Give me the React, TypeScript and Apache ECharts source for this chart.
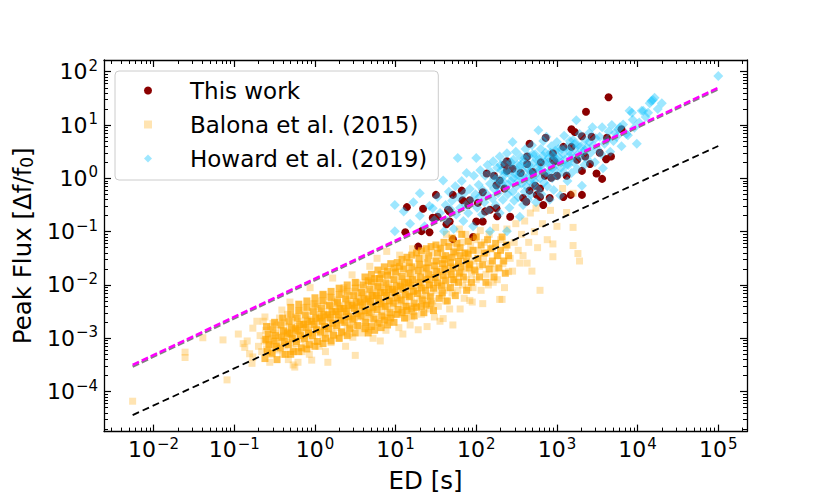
import React, { useEffect, useRef } from 'react';
import * as echarts from 'echarts';

// Axis extents (log10 units)
const X_MIN = -2.615;
const X_MAX = 5.356;
const Y_MIN = -4.75;
const Y_MAX = 2.22;

const xMajorTicks = [-2, -1, 0, 1, 2, 3, 4, 5];
const yMajorTicks = [-4, -3, -2, -1, 0, 1, 2];

const seriesNames = ['This work', 'Balona et al. (2015)', 'Howard et al. (2019)'];

// [log10 ED (s), log10 peak flux]
const thisWorkLog: [number, number][] = [
  [3.64, 1.52], [3.36, 1.25], [3.18, 0.92], [3.22, 0.87], [3.31, 0.79], [3.43, 0.78],
  [2.86, 0.76], [2.66, 0.65], [3.08, 0.59], [3.18, 0.59], [3.62, 0.76], [3.80, 0.92],
  [3.53, 0.48], [3.61, 0.36], [3.67, 0.41], [3.35, 0.41], [3.41, 0.27], [3.31, 0.14],
  [3.49, 0.09], [3.56, -0.01], [2.95, 0.47], [2.95, 0.35], [2.63, 0.41], [2.39, 0.29],
  [2.38, 0.14], [2.38, 0.32], [2.63, 0.27], [2.80, 0.30], [2.97, 0.32], [2.13, 0.09],
  [2.22, 0.05], [2.29, -0.04], [1.71, -0.31], [1.82, -0.23], [1.50, -0.31], [1.34, -0.57],
  [1.14, -0.54], [2.83, -0.50], [3.17, -0.31], [3.31, -0.31], [2.91, -0.37], [2.42, -0.72],
  [2.25, -0.56], [1.67, -0.62], [2.58, -0.37], [2.73, -0.14], [2.93, 0.01], [3.12, 0.05],
  [3.00, 0.05], [2.79, -0.19], [2.08, -0.81], [1.12, -1.01], [1.90, -0.50], [1.46, -0.74],
  [1.65, -0.59], [1.67, -0.81], [1.63, -0.86], [1.83, -0.41], [2.02, -0.46], [2.17, -0.59],
  [1.96, -1.10], [1.71, -1.14], [2.66, -0.23], [2.79, -0.35], [1.32, -0.99], [1.42, -1.01],
  [1.52, -0.72], [1.28, -1.28], [2.35, 0.26], [2.45, 0.18], [2.85, 0.05], [2.75, -0.31],
  [2.62, -0.44], [2.35, -0.19], [2.25, -0.13], [2.08, -0.26], [1.92, -0.41], [2.11, -0.62],
  [2.26, -0.71], [2.00, -0.81], [3.08, -0.35], [2.55, 0.10], [2.70, 0.12], [3.25, 0.35],
];

const balonaSparseLog: [number, number][] = [
  [-2.26, -4.18], [-1.61, -3.26], [-1.61, -3.36], [-1.39, -2.99], [-1.09, -3.78], [-1.14, -3.03],
  [-0.95, -2.92], [-0.84, -3.05], [-0.77, -2.81], [-0.72, -2.68], [-0.64, -2.68], [-0.60, -3.05],
  [-0.87, -3.17], [-0.77, -3.35], [-0.78, -3.47], [-0.27, -3.50], [-0.25, -3.54], [0.16, -3.45],
  [-0.04, -3.41], [-0.89, -3.10], [-0.81, -3.29],
  [-0.70, -3.15], [-0.68, -2.95], [-0.66, -3.25], [-0.63, -3.05], [-0.61, -2.85], [-0.60, -3.20],
  [-0.58, -2.98], [-0.57, -3.12], [-0.55, -2.78], [-0.54, -3.30], [-0.53, -3.00], [-0.52, -2.72],
  [-0.51, -3.18], [-0.62, -2.60], [-0.56, -3.45],
  [-0.49, -2.90], [-0.48, -3.10], [-0.47, -2.75], [-0.46, -3.22], [-0.45, -2.98], [-0.44, -2.62],
  [-0.43, -3.05], [-0.42, -2.85], [-0.41, -2.47], [-0.40, -3.30], [-0.39, -2.95], [-0.38, -2.70],
  [-0.37, -3.15], [-0.36, -2.88], [-0.35, -3.02], [-0.34, -2.55], [-0.33, -3.40], [-0.32, -2.78],
  [-0.31, -2.32], [-0.30, -3.08], [-0.29, -2.92], [-0.28, -2.66], [-0.27, -3.20], [-0.26, -2.84],
  [-0.25, -2.95], [-0.24, -2.60], [-0.23, -3.10], [-0.22, -2.78], [-0.21, -3.45], [-0.20, -2.50],
  [-0.19, -2.88], [-0.18, -3.02], [-0.17, -2.68], [-0.16, -3.25], [-0.15, -2.82], [-0.14, -2.42],
  [-0.13, -2.95], [-0.12, -3.12], [-0.11, -2.72], [-0.10, -2.58], [-0.09, -3.00], [-0.08, -2.85],
  [-0.07, -3.30], [-0.06, -2.05], [-0.06, -2.65], [-0.05, -2.92], [-0.03, -2.48], [-0.02, -2.78],
  [-0.01, -3.05], [-0.02, -2.35],
  [0.01, -2.62], [0.02, -2.90], [0.03, -2.40], [0.04, -2.75], [0.05, -3.15], [0.06, -2.55],
  [0.07, -2.85], [0.08, -2.30], [0.09, -2.68], [0.10, -2.17], [0.10, -3.00], [0.11, -2.50],
  [0.12, -2.78], [0.13, -3.25], [0.14, -2.60], [0.15, -2.38], [0.16, -2.92], [0.17, -2.70],
  [0.18, -2.22], [0.19, -2.55], [0.20, -3.08], [0.21, -2.82], [0.22, -1.87], [0.22, -2.45],
  [0.23, -2.66], [0.24, -2.95], [0.24, -2.32], [0.05, -2.48], [0.12, -2.88], [0.19, -2.40],
  [0.08, -2.60],
  [0.26, -2.55], [0.27, -2.80], [0.28, -2.28], [0.29, -2.62], [0.30, -3.00], [0.31, -2.45],
  [0.32, -2.70], [0.33, -2.15], [0.34, -2.52], [0.35, -2.08], [0.35, -2.88], [0.36, -2.38],
  [0.37, -2.60], [0.38, -3.15], [0.39, -2.25], [0.40, -2.75], [0.41, -2.48], [0.42, -2.92],
  [0.43, -2.20], [0.44, -2.58], [0.45, -2.35], [0.46, -1.81], [0.46, -2.68], [0.47, -2.98],
  [0.48, -2.42], [0.49, -2.12], [0.49, -2.62], [0.30, -2.40], [0.38, -2.55], [0.44, -2.80],
  [0.27, -2.35], [0.33, -2.90], [0.41, -2.30], [0.48, -2.75], [0.36, -2.05],
  [0.50, -3.32], [0.51, -2.40], [0.52, -1.96], [0.53, -2.60], [0.54, -2.25], [0.55, -2.78],
  [0.56, -2.35], [0.57, -2.05], [0.58, -2.50], [0.59, -2.90], [0.60, -2.18], [0.61, -2.42],
  [0.62, -2.68], [0.63, -1.95], [0.64, -2.30], [0.65, -2.55], [0.66, -2.12], [0.67, -2.85],
  [0.68, -1.65], [0.68, -2.38], [0.69, -2.62], [0.70, -2.20], [0.71, -2.45], [0.72, -3.00],
  [0.73, -2.02], [0.74, -2.30], [0.55, -2.48], [0.60, -2.60], [0.65, -2.30], [0.70, -2.50],
  [0.58, -2.15], [0.63, -2.78], [0.72, -2.15], [0.53, -2.20],
  [0.75, -2.60], [0.76, -2.15], [0.77, -1.50], [0.78, -2.40], [0.79, -1.95], [0.80, -2.70],
  [0.81, -3.05], [0.81, -2.25], [0.82, -2.05], [0.83, -2.50], [0.84, -1.85], [0.85, -2.32],
  [0.86, -2.60], [0.87, -2.10], [0.88, -2.85], [0.89, -1.37], [0.89, -2.20], [0.90, -2.45],
  [0.91, -1.98], [0.92, -2.70], [0.93, -2.30], [0.94, -1.80], [0.95, -2.55], [0.96, -2.12],
  [0.97, -2.40], [0.98, -1.90], [0.99, -2.25], [0.80, -2.35], [0.85, -2.00], [0.90, -2.62],
  [0.95, -2.20], [0.78, -2.05], [0.88, -2.40], [0.93, -2.05],
  [1.00, -2.55], [1.01, -2.10], [1.02, -1.75], [1.03, -2.35], [1.04, -2.80], [1.05, -1.44],
  [1.05, -2.00], [1.06, -2.20], [1.07, -1.88], [1.08, -2.48], [1.09, -2.92], [1.10, -2.05],
  [1.11, -1.65], [1.12, -2.30], [1.13, -2.62], [1.14, -1.95], [1.15, -2.15], [1.16, -1.78],
  [1.17, -2.40], [1.18, -2.75], [1.19, -1.90], [1.20, -2.22], [1.21, -1.32], [1.21, -2.00],
  [1.22, -2.50], [1.23, -1.70], [1.24, -2.10], [1.05, -2.30], [1.10, -2.40], [1.15, -1.90],
  [1.20, -2.60], [1.08, -1.95], [1.13, -2.05], [1.18, -2.20],
  [1.25, -2.40], [1.26, -1.85], [1.27, -2.10], [1.28, -2.84], [1.29, -1.60], [1.30, -2.25],
  [1.31, -1.95], [1.32, -2.55], [1.33, -1.75], [1.34, -2.05], [1.35, -2.35], [1.36, -1.50],
  [1.37, -1.88], [1.38, -2.20], [1.39, -2.78], [1.40, -1.68], [1.41, -2.00], [1.42, -2.45],
  [1.43, -1.82], [1.44, -2.15], [1.45, -1.40], [1.46, -2.30], [1.47, -1.95], [1.48, -2.60],
  [1.49, -1.72], [1.30, -2.00], [1.35, -1.70], [1.40, -2.30], [1.45, -1.90], [1.33, -2.20],
  [1.50, -2.10], [1.51, -1.55], [1.52, -1.85], [1.53, -2.40], [1.54, -1.30], [1.55, -2.68],
  [1.55, -2.00], [1.56, -1.70], [1.57, -2.20], [1.58, -1.45], [1.59, -2.63], [1.60, -1.90],
  [1.61, -1.62], [1.62, -2.30], [1.63, -1.05], [1.64, -1.80], [1.65, -2.05], [1.66, -1.50],
  [1.67, -2.45], [1.68, -1.75], [1.69, -1.20], [1.70, -2.15], [1.71, -2.75], [1.72, -1.65],
  [1.73, -1.95], [1.74, -1.40], [1.55, -1.75], [1.60, -2.10], [1.65, -1.65], [1.70, -1.90],
  [1.75, -1.85], [1.76, -1.35], [1.77, -2.10], [1.78, -1.60], [1.79, -0.95], [1.80, -2.45],
  [1.81, -1.75], [1.82, -1.20], [1.83, -2.00], [1.84, -1.50], [1.85, -2.25], [1.86, -1.70],
  [1.87, -1.05], [1.88, -1.90], [1.89, -1.40], [1.90, -2.05], [1.91, -1.60], [1.92, -2.29],
  [1.93, -1.28], [1.94, -1.80], [1.95, -2.32], [1.96, -2.05], [1.97, -1.55], [1.98, -1.15],
  [1.99, -1.75],
  [2.00, -1.90], [2.02, -1.35], [2.04, -1.65], [2.05, -0.98], [2.06, -2.10], [2.08, -2.35],
  [2.09, -1.50], [2.10, -1.20], [2.12, -1.80], [2.13, -1.40], [2.15, -2.00], [2.16, -1.05],
  [2.18, -1.60], [2.20, -1.30], [2.21, -1.95], [2.23, -1.70], [2.24, -0.92],
  [2.26, -1.90], [2.27, -1.45], [2.29, -2.27], [2.30, -1.15], [2.32, -2.27], [2.33, -1.60],
  [2.35, -2.05], [2.36, -1.30], [2.38, -0.95], [2.40, -1.75], [2.42, -1.50], [2.45, -1.74],
  [2.47, -1.20], [2.49, -0.85],
  [2.52, -1.35], [2.54, -1.59], [2.56, -1.05], [2.58, -1.45], [2.60, -0.80], [2.63, -1.59],
  [2.65, -1.20], [2.67, -0.65], [2.69, -1.74], [2.72, -1.00], [2.74, -0.56],
  [2.76, -1.30], [2.79, -2.10], [2.82, -0.85], [2.88, -1.15], [2.92, -0.60], [2.95, -1.23],
  [2.95, -1.47], [3.00, -0.90], [3.07, -0.19], [3.12, -0.64], [3.20, -0.28], [3.20, -0.92],
  [3.20, -1.26], [3.26, -1.41], [3.28, -1.55],
];

// dense interior of the Balona cloud
const balonaCoreLog: [number, number][] = [
  [-0.60, -2.78], [-0.58, -2.92], [-0.61, -3.02], [-0.57, -3.12], [-0.59, -3.25], [-0.62, -3.38],
  [-0.50, -2.70], [-0.52, -2.84], [-0.49, -2.95], [-0.51, -3.05], [-0.48, -3.15], [-0.53, -3.28], [-0.47, -3.40],
  [-0.40, -2.62], [-0.42, -2.75], [-0.39, -2.86], [-0.41, -2.98], [-0.38, -3.06], [-0.43, -3.18], [-0.37, -3.30],
  [-0.30, -2.55], [-0.32, -2.68], [-0.29, -2.80], [-0.31, -2.92], [-0.28, -3.00], [-0.33, -3.12], [-0.27, -3.25], [-0.34, -2.90],
  [-0.20, -2.48], [-0.22, -2.62], [-0.19, -2.74], [-0.21, -2.86], [-0.18, -2.95], [-0.23, -3.06], [-0.17, -3.18], [-0.24, -2.82],
  [-0.10, -2.42], [-0.12, -2.56], [-0.09, -2.68], [-0.11, -2.80], [-0.08, -2.90], [-0.13, -3.00], [-0.07, -3.12], [-0.14, -2.74],
  [0.00, -2.36], [-0.02, -2.50], [0.01, -2.62], [-0.01, -2.74], [0.02, -2.84], [-0.03, -2.95], [0.03, -3.06], [-0.04, -2.68],
  [0.10, -2.30], [0.08, -2.44], [0.11, -2.56], [0.09, -2.68], [0.12, -2.78], [0.07, -2.88], [0.13, -3.00], [0.06, -2.62],
  [0.20, -2.24], [0.18, -2.38], [0.21, -2.50], [0.19, -2.62], [0.22, -2.72], [0.17, -2.82], [0.23, -2.94], [0.16, -2.56],
  [0.30, -2.18], [0.28, -2.32], [0.31, -2.44], [0.29, -2.56], [0.32, -2.66], [0.27, -2.76], [0.33, -2.88], [0.26, -2.50],
  [0.40, -2.12], [0.38, -2.26], [0.41, -2.38], [0.39, -2.50], [0.42, -2.60], [0.37, -2.70], [0.43, -2.82], [0.36, -2.44],
  [0.50, -2.06], [0.48, -2.20], [0.51, -2.32], [0.49, -2.44], [0.52, -2.54], [0.47, -2.64], [0.53, -2.76], [0.46, -2.38],
  [0.60, -2.00], [0.58, -2.14], [0.61, -2.26], [0.59, -2.38], [0.62, -2.48], [0.57, -2.58], [0.63, -2.70], [0.56, -2.32],
  [0.70, -1.94], [0.68, -2.08], [0.71, -2.20], [0.69, -2.32], [0.72, -2.42], [0.67, -2.52], [0.73, -2.64], [0.66, -2.26],
  [0.80, -1.88], [0.78, -2.02], [0.81, -2.14], [0.79, -2.26], [0.82, -2.36], [0.77, -2.46], [0.83, -2.58], [0.76, -2.20],
  [0.90, -1.82], [0.88, -1.96], [0.91, -2.08], [0.89, -2.20], [0.92, -2.30], [0.87, -2.40], [0.93, -2.52], [0.86, -2.14],
  [1.00, -1.76], [0.98, -1.90], [1.01, -2.02], [0.99, -2.14], [1.02, -2.24], [0.97, -2.34], [1.03, -2.46], [0.96, -2.08],
  [1.10, -1.70], [1.08, -1.84], [1.11, -1.96], [1.09, -2.08], [1.12, -2.18], [1.07, -2.28], [1.13, -2.40], [1.06, -2.02],
  [1.20, -1.66], [1.18, -1.78], [1.21, -1.90], [1.19, -2.02], [1.22, -2.12], [1.17, -2.22], [1.23, -2.34], [1.16, -1.96],
  [1.30, -1.62], [1.28, -1.73], [1.31, -1.85], [1.29, -1.96], [1.32, -2.06], [1.27, -2.16], [1.33, -2.28],
  [1.40, -1.58], [1.38, -1.68], [1.41, -1.80], [1.39, -1.90], [1.42, -2.00], [1.37, -2.10], [1.43, -2.22],
  [1.50, -1.55], [1.48, -1.64], [1.51, -1.75], [1.49, -1.86], [1.52, -1.96], [1.47, -2.06],
  [1.60, -1.52], [1.58, -1.60], [1.61, -1.70], [1.59, -1.82], [1.62, -1.92], [1.57, -2.02],
  [1.70, -1.48], [1.68, -1.58], [1.71, -1.68], [1.69, -1.80], [1.72, -1.90],
  [1.80, -1.45], [1.78, -1.56], [1.81, -1.66], [1.79, -1.78],
  [1.90, -1.42], [1.88, -1.55], [1.91, -1.68],
  // widening of the cloud
  [-0.30, -2.42], [-0.20, -2.36], [-0.10, -2.30], [0.00, -2.24], [0.10, -2.18], [0.20, -2.12],
  [0.30, -2.06], [0.40, -2.00], [0.50, -1.95],
  [-0.30, -3.30], [-0.20, -3.25], [-0.10, -3.20], [0.00, -3.15], [0.10, -3.10], [0.20, -3.05],
  [0.30, -3.00], [0.40, -2.95], [0.50, -2.90],
  [0.62, -1.85], [0.70, -1.80], [0.78, -1.72], [0.86, -1.66], [0.94, -1.60], [0.66, -1.92],
  [0.74, -1.88], [0.82, -1.80], [0.90, -1.74], [0.98, -1.68],
  [0.62, -2.82], [0.70, -2.78], [0.78, -2.72], [0.86, -2.66], [0.94, -2.62], [0.66, -2.90],
  [0.74, -2.85], [0.82, -2.80], [0.90, -2.75], [0.98, -2.70],
  [1.02, -1.58], [1.08, -1.52], [1.14, -1.48], [1.20, -1.44], [1.26, -1.40], [1.32, -1.36],
  [1.38, -1.32], [1.44, -1.28], [1.05, -1.65], [1.17, -1.58], [1.29, -1.50], [1.41, -1.45],
  [1.02, -2.55], [1.08, -2.52], [1.14, -2.48], [1.20, -2.45], [1.26, -2.42], [1.32, -2.40],
  [1.38, -2.38], [1.44, -2.35], [1.11, -2.62], [1.23, -2.58], [1.35, -2.52], [1.47, -2.48],
  [1.50, -1.25], [1.52, -1.40], [1.54, -2.25], [1.56, -1.32], [1.58, -2.15], [1.60, -1.20],
  [1.62, -1.45], [1.64, -2.30], [1.66, -1.28], [1.68, -2.05], [1.70, -1.12], [1.72, -1.38],
  [1.74, -2.20], [1.76, -1.22], [1.78, -1.95], [1.80, -1.30], [1.82, -1.05], [1.84, -1.85],
  [1.86, -1.40], [1.88, -2.10], [1.90, -1.18], [1.92, -1.62], [1.94, -1.95], [1.96, -1.35],
  [1.98, -1.72], [2.00, -1.10], [2.02, -1.50], [2.04, -1.85], [2.06, -1.25], [2.08, -1.62],
  [2.10, -1.40], [2.12, -1.95], [2.14, -1.15], [2.16, -1.70], [2.18, -1.32], [2.20, -1.55],
  [2.22, -1.85], [2.24, -1.22], [2.26, -1.45], [2.28, -1.68], [2.30, -1.35], [2.32, -1.10],
  [2.34, -1.55], [2.36, -1.78], [2.38, -1.25], [2.40, -1.45],
];

const howardLog: [number, number][] = [
  [0.99, -0.50], [0.99, -0.99], [1.10, -0.62], [1.18, -0.85], [1.22, -0.45], [1.30, -0.28],
  [1.30, -0.70], [1.36, -0.90], [1.42, -0.52], [1.46, -0.56], [1.48, -0.78],
  [1.52, -0.35], [1.55, -0.65], [1.59, -0.04], [1.60, -0.99], [1.62, -0.50], [1.64, -0.80],
  [1.66, -0.25], [1.68, -0.58], [1.70, -0.42], [1.72, -0.95], [1.74, -0.15], [1.75, -0.68],
  [1.77, 0.38], [1.78, -0.35], [1.80, -0.55], [1.82, -0.05], [1.84, -0.80], [1.85, -0.28],
  [1.87, -0.50], [1.88, 0.10], [1.90, -0.65], [1.92, -0.20], [1.94, -0.40], [1.96, -0.90],
  [1.97, 0.05], [1.99, -0.30],
  [2.00, 0.38], [2.01, -0.55], [2.03, -0.12], [2.04, -0.35], [2.05, 0.15], [2.07, -0.68],
  [2.08, -0.22], [2.10, -0.45], [2.11, 0.05], [2.13, -0.30], [2.14, 0.25], [2.15, -0.60],
  [2.17, -0.99], [2.17, -0.10], [2.18, 0.12], [2.20, -0.38], [2.21, 0.32], [2.22, -0.20],
  [2.24, -0.50], [2.25, 0.00], [2.26, 0.20], [2.27, -0.28], [2.29, 0.41], [2.29, -0.65],
  [2.30, -0.08], [2.31, 0.15], [2.33, -0.40], [2.34, 0.05], [2.35, 0.30], [2.36, -0.18],
  [2.38, 0.47], [2.38, -0.99], [2.39, -0.30], [2.40, 0.10], [2.41, -0.55], [2.42, 0.22],
  [2.43, -0.05], [2.45, 0.68], [2.45, -0.25], [2.46, 0.35], [2.47, -0.42], [2.48, 0.08],
  [2.49, 0.50],
  [2.50, -0.15], [2.51, 0.25], [2.52, -0.35], [2.53, 0.05], [2.54, -0.72], [2.55, 0.40],
  [2.56, -0.10], [2.57, 0.15], [2.58, -0.50], [2.59, 0.30], [2.60, -0.25], [2.61, 0.55],
  [2.62, 0.00], [2.63, 0.20], [2.64, -0.40], [2.65, 0.42], [2.66, -0.05], [2.67, 0.12],
  [2.68, -0.30], [2.69, 0.62], [2.70, 0.28], [2.71, -0.12], [2.72, 0.05], [2.73, 0.45],
  [2.74, -0.45], [2.75, 0.20], [2.76, -0.20], [2.77, 0.90], [2.78, 0.35], [2.79, 0.00],
  [2.80, 0.55], [2.81, -0.30], [2.82, 0.15], [2.83, 0.70], [2.84, -0.08], [2.85, 0.30],
  [2.86, 0.48], [2.87, 0.78], [2.88, -0.15], [2.89, 0.10], [2.90, 0.38], [2.91, -0.40],
  [2.92, 0.22], [2.93, 0.60], [2.94, 0.00], [2.95, 0.42], [2.96, -0.22], [2.97, 0.15],
  [2.98, 0.52], [2.99, 0.30],
  [3.00, 0.68], [3.01, 0.05], [3.02, 0.40], [3.04, -0.32], [3.05, 0.20], [3.06, 0.55],
  [3.08, 0.12], [3.09, 0.80], [3.10, 0.35], [3.12, 0.59], [3.13, -0.05], [3.14, 0.25],
  [3.16, 0.70], [3.17, 0.45], [3.18, 0.10], [3.20, 0.72], [3.21, 0.30], [3.22, 0.55],
  [3.24, 1.09], [3.25, 0.18], [3.26, 0.62], [3.28, 0.83], [3.29, 0.40], [3.31, -0.14],
  [3.32, 0.50], [3.34, 0.25], [3.35, 0.72], [3.37, 0.58], [3.38, 0.35], [3.40, 0.85],
  [3.42, 0.48], [3.44, 0.96], [3.45, 0.62], [3.47, 0.30], [3.48, 0.75],
  [3.50, 0.55], [3.53, 0.78], [3.55, 0.45], [3.56, 0.96], [3.57, 0.19], [3.59, 0.65],
  [3.62, 0.72], [3.64, 0.88], [3.66, 0.50], [3.68, 1.00], [3.70, 0.70], [3.72, 0.85],
  [3.74, 0.78], [3.76, 0.92], [3.78, 0.96], [3.80, 0.60], [3.82, 1.01], [3.86, 0.83],
  [3.88, 0.81], [3.90, 1.27], [3.93, 1.23], [3.94, 1.10], [3.96, 0.95], [3.99, 0.65],
  [4.02, 1.05], [4.05, 1.27], [4.07, 1.27], [4.10, 1.15], [4.13, 1.23], [4.15, 1.41],
  [4.17, 1.45], [4.19, 1.47], [4.21, 1.51], [4.25, 1.30], [4.30, 1.41], [5.00, 1.92],
  [2.22, 0.00], [2.26, -0.15], [2.30, 0.25], [2.33, -0.05], [2.36, 0.12], [2.40, -0.12],
  [2.43, 0.30], [2.46, 0.00], [2.50, 0.15], [2.52, -0.05], [2.55, 0.25], [2.58, 0.05],
  [2.60, 0.38], [2.62, -0.15], [2.65, 0.25], [2.68, 0.10], [2.70, 0.45], [2.72, -0.05],
  [2.75, 0.35], [2.78, 0.15], [2.80, 0.25], [2.83, 0.42], [2.86, 0.10], [2.89, 0.30],
  [2.92, 0.48], [2.95, 0.20], [2.98, 0.38], [3.02, 0.55], [3.05, 0.30], [3.08, 0.45],
  [3.12, 0.25], [3.15, 0.52], [3.18, 0.38], [3.22, 0.65], [3.26, 0.45], [3.30, 0.60],
  [3.35, 0.52], [3.40, 0.68],
];

// Fit lines: [log10 ED, log10 peak flux] end points
const magentaFitLog: [number, number][] = [[-2.26, -3.50], [5.0, 1.70]];
const grayFitLog: [number, number][] = [[-2.26, -3.53], [5.0, 1.675]];
const blackFitLog: [number, number][] = [[-2.26, -4.44], [5.0, 0.607]];

const FONT = 'DejaVu Sans';

function minorTicks(lo: number, hi: number): number[] {
  const out: number[] = [];
  for (let n = Math.floor(lo) - 1; n <= Math.ceil(hi); n++) {
    for (let k = 2; k <= 9; k++) {
      const v = n + Math.log10(k);
      if (v > lo && v < hi) out.push(v);
    }
  }
  return out;
}

function supText(v: number): string {
  const r = Math.round(v);
  return r < 0 ? '\u2212' + Math.abs(r) : String(r);
}

const tickRich = {
  b: { fontSize: 22, lineHeight: 22, fontFamily: FONT, color: '#000' },
  s: { fontSize: 15, lineHeight: 15, fontFamily: FONT, color: '#000', padding: [0, 0, 12, 1] },
};

export default function App() {
  const ref = useRef<HTMLDivElement>(null);

  useEffect(() => {
    if (!ref.current) return;
    const chart = echarts.init(ref.current, undefined, { renderer: 'svg' });
    const xMinor = minorTicks(X_MIN, X_MAX);
    const yMinor = minorTicks(Y_MIN, Y_MAX);
    const axisLine = { show: true, onZero: false, lineStyle: { color: '#000', width: 1.3 } };
    const noLine = { show: false, onZero: false };
    const baseAxis = (min: number, max: number) => ({
      type: 'value' as const,
      min,
      max,
      splitLine: { show: false },
    });
    const majorTick = (vals: number[]) => ({
      show: true, inside: true, length: 7, customValues: vals, lineStyle: { color: '#000', width: 1.2 },
    });
    const minorTick = (vals: number[]) => ({
      show: true, inside: true, length: 4, customValues: vals, lineStyle: { color: '#000', width: 1 },
    });

    const option: any = {
      animation: false,
      backgroundColor: '#fff',
      grid: { left: 104, right: 83, top: 60, bottom: 55, containLabel: false },
      legend: {
        data: seriesNames,
        orient: 'vertical',
        left: 115,
        top: 71,
        padding: [8, 11, 10, 29],
        itemGap: 11,
        itemWidth: 8,
        itemHeight: 8,
        backgroundColor: 'rgba(255,255,255,0.8)',
        borderColor: '#cccccc',
        borderWidth: 1,
        borderRadius: 4,
        selectedMode: false,
        textStyle: { fontSize: 23, lineHeight: 23, fontFamily: FONT, color: '#000', padding: [0, 0, 0, 33] },
      },
      xAxis: [
        {
          ...baseAxis(X_MIN, X_MAX),
          position: 'bottom',
          axisLine,
          axisTick: majorTick(xMajorTicks),
          axisLabel: {
            show: true,
            customValues: xMajorTicks,
            margin: 7,
            formatter: (v: number) => `{b|10}{s|${supText(v)}}`,
            rich: tickRich,
          },
          name: 'ED [s]',
          nameLocation: 'middle',
          nameGap: 34,
          nameTextStyle: { fontSize: 24.5, fontFamily: FONT, color: '#000' },
        },
        { ...baseAxis(X_MIN, X_MAX), position: 'bottom', axisLine: noLine, axisTick: minorTick(xMinor), axisLabel: { show: false } },
        { ...baseAxis(X_MIN, X_MAX), position: 'top', axisLine, axisTick: majorTick(xMajorTicks), axisLabel: { show: false } },
        { ...baseAxis(X_MIN, X_MAX), position: 'top', axisLine: noLine, axisTick: minorTick(xMinor), axisLabel: { show: false } },
      ],
      yAxis: [
        {
          ...baseAxis(Y_MIN, Y_MAX),
          position: 'left',
          axisLine,
          axisTick: majorTick(yMajorTicks),
          axisLabel: {
            show: true,
            customValues: yMajorTicks,
            margin: 6,
            formatter: (v: number) => `{b|10}{s|${supText(v)}}`,
            rich: tickRich,
          },
          name: 'Peak Flux [\u0394f/f{sub|0}]',
          nameLocation: 'middle',
          nameGap: 64,
          nameTextStyle: {
            fontSize: 24.5,
            fontFamily: FONT,
            color: '#000',
            rich: { sub: { fontSize: 17, fontFamily: FONT, color: '#000', padding: [9, 0, 0, 0] } },
          },
        },
        { ...baseAxis(Y_MIN, Y_MAX), position: 'left', axisLine: noLine, axisTick: minorTick(yMinor), axisLabel: { show: false } },
        { ...baseAxis(Y_MIN, Y_MAX), position: 'right', axisLine, axisTick: majorTick(yMajorTicks), axisLabel: { show: false } },
        { ...baseAxis(Y_MIN, Y_MAX), position: 'right', axisLine: noLine, axisTick: minorTick(yMinor), axisLabel: { show: false } },
      ],
      series: [
        {
          name: seriesNames[0],
          type: 'scatter',
          data: thisWorkLog,
          symbol: 'circle',
          symbolSize: 8,
          itemStyle: { color: '#8B0000', opacity: 1 },
          z: 2,
        },
        {
          name: seriesNames[1],
          type: 'scatter',
          data: balonaSparseLog,
          symbol: 'rect',
          symbolSize: 7,
          itemStyle: { color: '#FFA500', opacity: 0.3 },
          z: 3,
        },
        {
          name: seriesNames[1],
          type: 'scatter',
          data: balonaCoreLog,
          symbol: 'rect',
          symbolSize: 7,
          itemStyle: { color: '#FFA500', opacity: 0.7 },
          z: 3,
        },
        {
          name: seriesNames[2],
          type: 'scatter',
          data: howardLog,
          symbol: 'diamond',
          symbolSize: 10,
          itemStyle: { color: '#00BFFF', opacity: 0.38 },
          z: 4,
        },
        {
          type: 'line',
          data: blackFitLog,
          symbol: 'none',
          lineStyle: { color: '#000', width: 1.8, type: [7, 4] },
          z: 5,
        },
        {
          type: 'line',
          data: grayFitLog,
          symbol: 'none',
          lineStyle: { color: '#808080', width: 2.5, type: [7, 3] },
          z: 5,
        },
        {
          type: 'line',
          data: magentaFitLog,
          symbol: 'none',
          lineStyle: { color: '#FF00FF', width: 2.5, type: [7, 3] },
          z: 6,
        },
      ],
    };
    chart.setOption(option);
    return () => chart.dispose();
  }, []);

  return (
    <div
      ref={ref}
      style={{ position: 'fixed', left: 0, top: 0, width: 830, height: 498, background: '#fff' }}
    />
  );
}
